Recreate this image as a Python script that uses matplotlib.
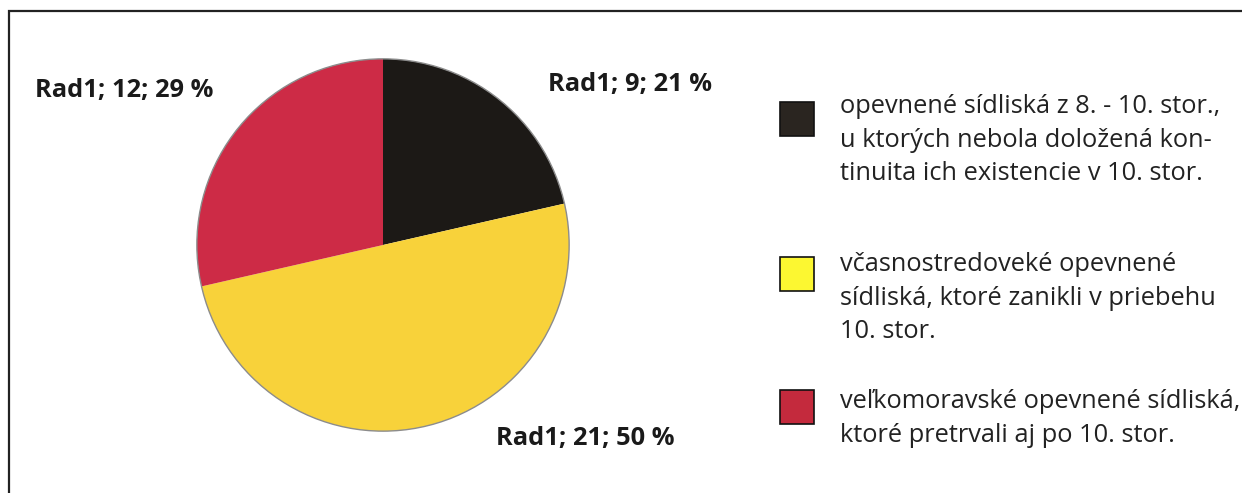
import matplotlib.pyplot as plt
from matplotlib.patches import Rectangle, Circle

values = [9, 21, 12]
series = "Rad1"
pie_colors = ["#1c1916", "#f8d23a", "#cd2b46"]
swatch_colors = ["#2a2520", "#fcf731", "#c42a3d"]
legend_labels = [
    "opevnené sídliská z 8. - 10. stor.,\nu ktorých nebola doložená kon-\ntinuita ich existencie v 10. stor.",
    "včasnostredoveké opevnené\nsídliská, ktoré zanikli v priebehu\n10. stor.",
    "veľkomoravské opevnené sídliská,\nktoré pretrvali aj po 10. stor.",
]

plt.rcParams['font.family'] = ['Open Sans', 'DejaVu Sans']

W, H = 1242, 493
fig = plt.figure(figsize=(W / 100, H / 100), dpi=100)

# frame
fig.add_artist(Rectangle((9 / W, -0.1), 1.2, 1 - 11 / H + 0.1, transform=fig.transFigure,
                         fill=False, edgecolor="#222222", linewidth=1.6))

cx, cy, r = 383, 245, 188
ax = fig.add_axes([(cx - r) / W, 1 - (cy + r) / H, 2 * r / W, 2 * r / H])
ax.pie(values, colors=pie_colors, startangle=90, counterclock=False,
       wedgeprops=dict(linewidth=0))
ax.add_patch(Circle((0, 0), 1.0, fill=False, edgecolor="#8c8c8c", linewidth=1.0))
ax.set_xlim(-1.01, 1.01)
ax.set_ylim(-1.01, 1.01)
ax.set_aspect('equal')

total = sum(values)
label_pos = [(548, 85), (496, 438), (35, 91)]
for v, (x, y) in zip(values, label_pos):
    pct = round(100 * v / total)
    fig.text(x / W, 1 - y / H, f"{series}; {v}; {pct} %", ha='left', va='center',
             fontsize=18.3, fontweight='bold', color="#1a1a1a")

# legend
sw_y = [102, 257, 390]
txt_y = [94, 252, 389]
for c, lab, sy, ty in zip(swatch_colors, legend_labels, sw_y, txt_y):
    fig.add_artist(Rectangle((780 / W, 1 - (sy + 34) / H), 34 / W, 34 / H,
                             transform=fig.transFigure, facecolor=c,
                             edgecolor="#111111", linewidth=1.2))
    fig.text(840 / W, 1 - ty / H, lab, ha='left', va='top', fontsize=18.3,
             color="#222222", linespacing=1.45)

fig.savefig("out.png", dpi=100)
